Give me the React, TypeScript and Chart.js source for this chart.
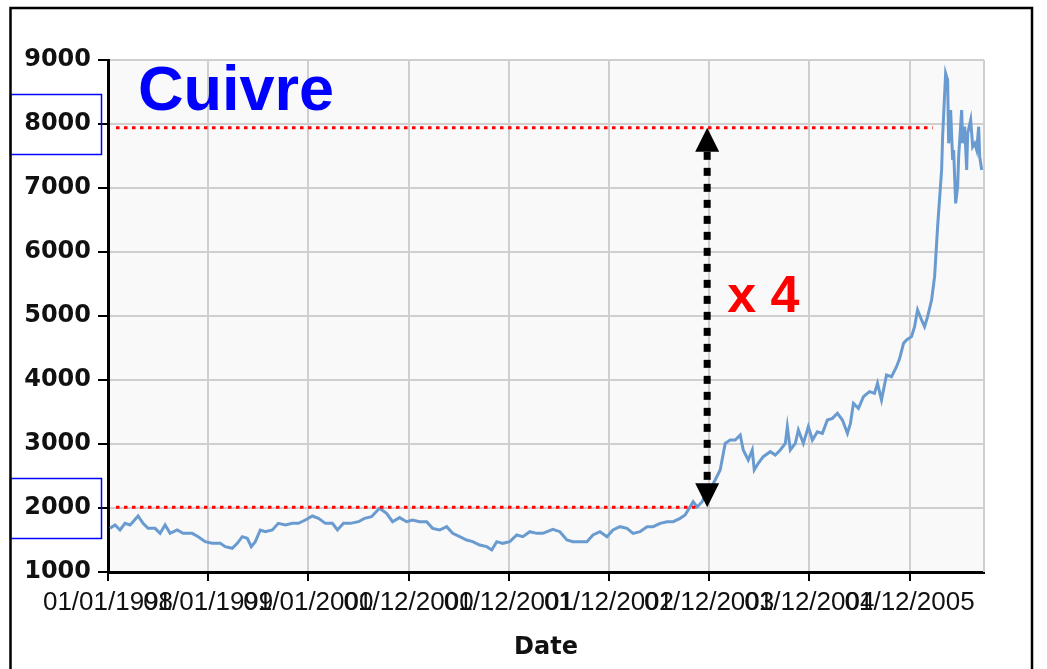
import React, { useEffect, useRef } from 'react';
import { Chart, registerables } from 'chart.js';

Chart.register(...registerables);

// x positions are in "tick units" (one unit per labelled tick, 0 = 01/01/1998)
const xTickPositions = [0, 1, 2, 3, 4, 5, 6, 7, 8];
const xTickLabels = [
  '01/01/1998', '01/01/1999', '01/01/2000', '01/12/2000', '01/12/2001',
  '01/12/2002', '01/12/2003', '01/12/2004', '01/12/2005',
];
const xMax = 8.743;
const yTicks = [1000, 2000, 3000, 4000, 5000, 6000, 7000, 8000, 9000];

const times = [
  0.02, 0.07, 0.12, 0.17, 0.22, 0.25, 0.30, 0.35, 0.40, 0.47, 0.52, 0.57, 0.62, 0.69, 0.75, 0.84, 0.90, 0.97,
  1.04, 1.12, 1.17, 1.24, 1.29, 1.34, 1.39, 1.43, 1.47, 1.52, 1.57, 1.64, 1.70, 1.77, 1.84, 1.90, 1.97,
  2.04, 2.10, 2.17, 2.24, 2.29, 2.35, 2.42, 2.50, 2.56, 2.63, 2.71, 2.78, 2.84, 2.91, 2.98,
  3.04, 3.11, 3.18, 3.24, 3.31, 3.38, 3.44, 3.51, 3.58, 3.64, 3.71, 3.78, 3.83, 3.88, 3.94,
  4.01, 4.08, 4.14, 4.21, 4.28, 4.34, 4.44, 4.51, 4.58, 4.64, 4.71, 4.78, 4.84, 4.91, 4.98,
  5.04, 5.11, 5.18, 5.24, 5.31, 5.38, 5.44, 5.51, 5.58, 5.64, 5.71, 5.76, 5.81, 5.84, 5.88, 5.93, 5.98,
  6.03, 6.06, 6.11, 6.16, 6.21, 6.26, 6.31, 6.34, 6.39, 6.43, 6.45, 6.49, 6.54, 6.61, 6.66, 6.71, 6.76, 6.78,
  6.81, 6.86, 6.89, 6.94, 6.99, 7.03, 7.08, 7.13, 7.18, 7.23, 7.28, 7.33, 7.38, 7.41, 7.44, 7.49, 7.54,
  7.60, 7.65, 7.68, 7.72, 7.77, 7.82, 7.87, 7.90, 7.94, 7.97, 8.02, 8.05, 8.08, 8.12, 8.15, 8.18, 8.22,
  8.25, 8.28, 8.32, 8.33, 8.36, 8.38, 8.39, 8.41, 8.43, 8.44, 8.46, 8.48, 8.49, 8.52, 8.53, 8.55, 8.57,
  8.58, 8.61, 8.63, 8.65, 8.67, 8.69, 8.70, 8.72,
];

const prices = [
  1683, 1734, 1656, 1760, 1734, 1786, 1875, 1760, 1682, 1682, 1604, 1734, 1604, 1656, 1604, 1604, 1552, 1474,
  1448, 1448, 1396, 1370, 1448, 1552, 1526, 1396, 1474, 1656, 1630, 1656, 1760, 1734, 1760, 1760, 1812,
  1875, 1838, 1760, 1760, 1656, 1760, 1760, 1786, 1838, 1864, 1995, 1917, 1786, 1850, 1786,
  1812, 1786, 1786, 1682, 1656, 1708, 1604, 1552, 1500, 1474, 1422, 1396, 1344, 1474, 1448,
  1474, 1578, 1552, 1630, 1604, 1604, 1667, 1630, 1500, 1474, 1474, 1474, 1578, 1630, 1552,
  1656, 1708, 1682, 1604, 1630, 1708, 1708, 1760, 1786, 1786, 1838, 1890, 2021, 2099, 2016, 2099, 2266,
  2350, 2438, 2594, 3010, 3062, 3062, 3140, 2906, 2750, 2906, 2594, 2698, 2802, 2880, 2828, 2906, 3010, 3270,
  2906, 3010, 3218, 3010, 3270, 3062, 3192, 3166, 3375, 3401, 3479, 3375, 3167, 3323, 3635, 3557, 3740,
  3818, 3792, 3948, 3688, 4078, 4052, 4208, 4330, 4573, 4625, 4677, 4833, 5094, 4938, 4833, 4990, 5250,
  5615, 6396, 7281, 7802, 8792, 8688, 7698, 8219, 7438, 7594, 6760, 7021, 7490, 8219, 7698, 7958, 7281,
  7854, 8063, 7646, 7698, 7594, 7958, 7490, 7281,
];

const chartTitle = 'Cuivre';
const factorLabel = 'x 4';
const xAxisTitle = 'Date';
const refHigh = 7940;
const refLow = 2010;
const refStart = 0.08;
const refHighEnd = 8.23;
const refLowEnd = 5.88;
const arrowX = 5.98;
const boxedTicks = [8000, 2000];

const annotations = {
  id: 'annotations',
  beforeDraw(chart: any) {
    const { ctx, chartArea } = chart;
    ctx.save();
    ctx.fillStyle = '#ffffff';
    ctx.fillRect(0, 0, chart.width, chart.height);
    ctx.fillStyle = '#f9f9f9';
    ctx.fillRect(chartArea.left, chartArea.top, chartArea.right - chartArea.left, chartArea.bottom - chartArea.top);
    ctx.restore();
  },
  beforeDatasetsDraw(chart: any) {
    const { ctx, chartArea } = chart;
    ctx.save();
    ctx.strokeStyle = '#cfcfcf';
    ctx.lineWidth = 2;
    ctx.beginPath();
    ctx.moveTo(chartArea.right, chartArea.top);
    ctx.lineTo(chartArea.right, chartArea.bottom);
    ctx.stroke();
    ctx.restore();
  },
  afterDraw(chart: any) {
    const { ctx } = chart;
    const xs = chart.scales.x;
    const ys = chart.scales.y;
    ctx.save();

    // red dotted reference lines
    ctx.strokeStyle = '#ff0000';
    ctx.lineWidth = 3;
    ctx.setLineDash([3.5, 4.5]);
    ctx.beginPath();
    ctx.moveTo(xs.getPixelForValue(refStart), ys.getPixelForValue(refHigh));
    ctx.lineTo(xs.getPixelForValue(refHighEnd), ys.getPixelForValue(refHigh));
    ctx.moveTo(xs.getPixelForValue(refStart), ys.getPixelForValue(refLow));
    ctx.lineTo(xs.getPixelForValue(refLowEnd), ys.getPixelForValue(refLow));
    ctx.stroke();

    // double arrow
    const ax = xs.getPixelForValue(arrowX);
    const yTop = ys.getPixelForValue(refHigh);
    const yBot = ys.getPixelForValue(refLow);
    const head = 24;
    ctx.strokeStyle = '#000';
    ctx.lineWidth = 7;
    ctx.setLineDash([8, 8]);
    ctx.beginPath();
    ctx.moveTo(ax, yTop + head);
    ctx.lineTo(ax, yBot - head);
    ctx.stroke();
    ctx.setLineDash([]);
    ctx.fillStyle = '#000';
    ctx.beginPath();
    ctx.moveTo(ax, yTop);
    ctx.lineTo(ax - 12, yTop + head);
    ctx.lineTo(ax + 12, yTop + head);
    ctx.closePath();
    ctx.fill();
    ctx.beginPath();
    ctx.moveTo(ax, yBot);
    ctx.lineTo(ax - 12, yBot - head);
    ctx.lineTo(ax + 12, yBot - head);
    ctx.closePath();
    ctx.fill();

    // texts
    ctx.textBaseline = 'alphabetic';
    ctx.textAlign = 'left';
    ctx.fillStyle = '#ff0000';
    ctx.font = 'bold 52px "Liberation Sans", Arial, sans-serif';
    ctx.fillText(factorLabel, ax + 20, ys.getPixelForValue(5062));
    ctx.fillStyle = '#0000ff';
    ctx.font = 'bold 63px "Liberation Sans", Arial, sans-serif';
    ctx.fillText(chartTitle, xs.getPixelForValue(0.3), ys.getPixelForValue(8219));

    // blue boxes around tick labels
    ctx.strokeStyle = '#0000ff';
    ctx.lineWidth = 1.5;
    boxedTicks.forEach((v) => {
      const cy = ys.getPixelForValue(v);
      ctx.strokeRect(10.5, cy - 29.5, 91, 60);
    });

    // outer frame
    ctx.strokeStyle = '#000';
    ctx.lineWidth = 2.5;
    ctx.strokeRect(10.5, 8, 1021.5, 700);
    ctx.restore();
  },
};

export default function App() {
  const canvasRef = useRef<HTMLCanvasElement | null>(null);

  useEffect(() => {
    const canvas = canvasRef.current;
    if (!canvas) return;
    const data = times.map((t, i) => ({ x: t, y: prices[i] }));
    const chart = new Chart(canvas, {
      type: 'line',
      data: {
        datasets: [
          {
            data,
            borderColor: '#6a9bd0',
            borderWidth: 3,
            pointRadius: 0,
            tension: 0,
            fill: false,
          },
        ],
      },
      options: {
        responsive: false,
        animation: false,
        events: [],
        layout: { padding: { left: 0, right: 63, top: 60, bottom: 0 } },
        plugins: { legend: { display: false }, tooltip: { enabled: false }, title: { display: false } },
        scales: {
          x: {
            type: 'linear',
            min: 0,
            max: xMax,
            afterBuildTicks: (s: any) => {
              s.ticks = xTickPositions.map((v) => ({ value: v }));
            },
            afterFit: (s: any) => {
              s.height = 97;
            },
            ticks: {
              autoSkip: false,
              maxRotation: 0,
              minRotation: 0,
              padding: 6,
              color: '#111',
              font: { family: '"Liberation Sans", Arial, sans-serif', size: 26 },
              callback: (_v: any, i: number) => xTickLabels[i],
            },
            grid: { color: '#cfcfcf', lineWidth: 2, tickLength: 9, tickColor: '#000', tickWidth: 2 },
            border: { color: '#000', width: 3 },
            title: {
              display: true,
              text: xAxisTitle,
              color: '#111',
              font: { family: '"DejaVu Sans", Verdana, sans-serif', size: 24, weight: 'bold' },
              padding: { top: 0, bottom: 7 },
            },
          },
          y: {
            type: 'linear',
            min: 1000,
            max: 9000,
            afterBuildTicks: (s: any) => {
              s.ticks = yTicks.map((v) => ({ value: v }));
            },
            afterFit: (s: any) => {
              s.width = 108;
            },
            ticks: {
              padding: 7,
              color: '#111',
              font: { family: '"DejaVu Sans", Verdana, sans-serif', size: 24, weight: 'bold' },
              callback: (v: any) => String(v),
            },
            grid: { color: '#cfcfcf', lineWidth: 2, tickLength: 10, tickColor: '#000', tickWidth: 2 },
            border: { color: '#000', width: 3 },
          },
        },
      } as any,
      plugins: [annotations],
    });
    return () => chart.destroy();
  }, []);

  return (
    <div style={{ position: 'fixed', left: 0, top: 0, width: 1047, height: 669, background: '#fff' }}>
      <canvas ref={canvasRef} width={1047} height={669} style={{ display: 'block' }} />
    </div>
  );
}
